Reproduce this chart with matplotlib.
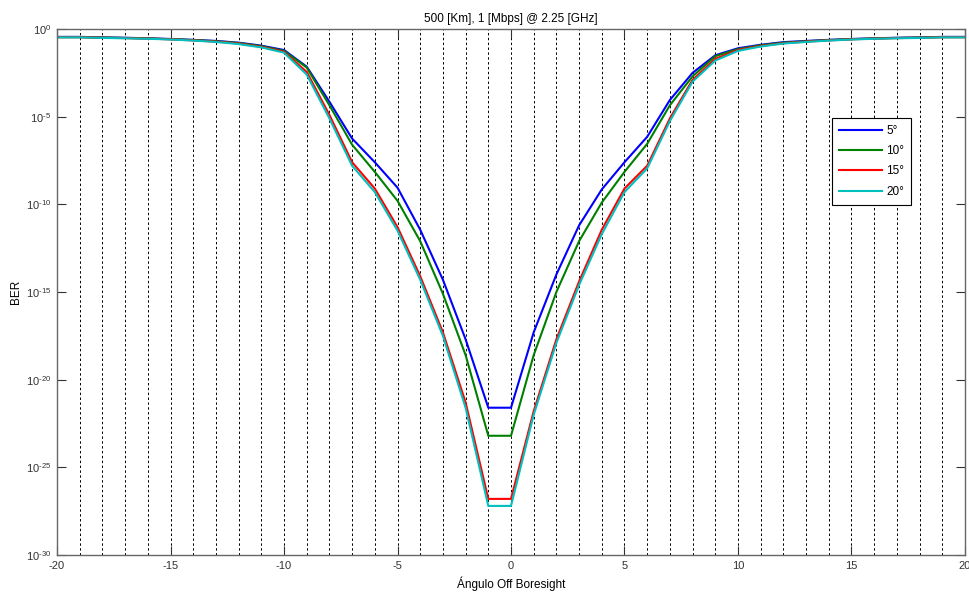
import numpy as np
import matplotlib
matplotlib.use('Agg')
import matplotlib.pyplot as plt
from matplotlib.ticker import MultipleLocator, FixedLocator, FuncFormatter

plt.rcParams['font.family'] = ['Liberation Sans', 'DejaVu Sans']
plt.rcParams['mathtext.fontset'] = 'custom'
plt.rcParams['mathtext.rm'] = 'Liberation Sans'
plt.rcParams['mathtext.it'] = 'Liberation Sans:italic'
plt.rcParams['mathtext.bf'] = 'Liberation Sans:bold'
plt.rcParams['axes.unicode_minus'] = False

# angle off boresight (deg)
angle = list(range(-20, 21))

# log10(BER), one list per elevation
log_ber_5 = [-0.45, -0.45, -0.48, -0.50, -0.53, -0.57, -0.62, -0.68, -0.78, -0.95,
             -1.20, -2.15, -4.15, -6.25, -7.60, -9.05, -11.45, -14.30, -17.70, -21.60,
             -21.60, -17.30, -14.00, -11.20, -9.15, -7.60, -6.15, -4.05, -2.50, -1.50,
             -1.10, -0.90, -0.75, -0.68, -0.62, -0.57, -0.53, -0.50, -0.48, -0.45, -0.45]
log_ber_10 = [-0.46, -0.46, -0.49, -0.51, -0.54, -0.58, -0.63, -0.70, -0.80, -0.98,
              -1.25, -2.20, -4.35, -6.60, -8.15, -9.80, -12.10, -15.10, -18.60, -23.20,
              -23.20, -18.60, -15.00, -12.10, -9.90, -8.15, -6.55, -4.35, -2.70, -1.55,
              -1.15, -0.93, -0.78, -0.70, -0.63, -0.58, -0.54, -0.51, -0.49, -0.46, -0.46]
log_ber_15 = [-0.47, -0.47, -0.50, -0.52, -0.55, -0.59, -0.65, -0.72, -0.83, -1.02,
              -1.30, -2.45, -4.90, -7.60, -9.10, -11.30, -14.10, -17.30, -21.30, -26.80,
              -26.80, -21.80, -17.70, -14.40, -11.45, -9.10, -7.80, -5.10, -2.90, -1.70,
              -1.20, -0.97, -0.81, -0.72, -0.65, -0.59, -0.55, -0.52, -0.50, -0.47, -0.47]
log_ber_20 = [-0.48, -0.48, -0.51, -0.53, -0.56, -0.60, -0.66, -0.74, -0.86, -1.05,
              -1.35, -2.60, -5.10, -7.80, -9.30, -11.50, -14.30, -17.50, -21.60, -27.20,
              -27.20, -22.00, -17.90, -14.60, -11.70, -9.30, -7.95, -5.25, -3.00, -1.80,
              -1.25, -1.00, -0.83, -0.74, -0.66, -0.60, -0.56, -0.53, -0.51, -0.48, -0.48]

labels = ['5°', '10°', '15°', '20°']
colors = ['#0000ff', '#008000', '#ff0000', '#00bfbf']
series = [log_ber_5, log_ber_10, log_ber_15, log_ber_20]
ytick_exp = [0, -5, -10, -15, -20, -25, -30]


def pow10_label(v, pos):
    e = int(round(np.log10(v)))
    return r'$10^{\text{%d}}$' % e


fig = plt.figure(figsize=(9.7, 6.0), dpi=100)
fig.patch.set_facecolor('white')
ax = fig.add_axes([0.0588, 0.075, 0.9360, 0.8767])

for vals, lab, col in zip(series, labels, colors):
    ax.semilogy(angle, 10.0 ** np.array(vals), color=col, lw=1.5, label=lab)

ax.set_xlim(-20, 20)
ax.set_ylim(1e-30, 1e0)

ax.xaxis.set_major_locator(MultipleLocator(5))
ax.xaxis.set_minor_locator(MultipleLocator(1))
ax.yaxis.set_major_locator(FixedLocator([10.0 ** e for e in ytick_exp]))
ax.yaxis.set_major_formatter(FuncFormatter(pow10_label))
ax.yaxis.set_minor_locator(FixedLocator([]))

ax.grid(True, which='both', axis='x', color='black', linestyle=(0, (2.5, 2.5)), linewidth=0.7)
ax.tick_params(which='major', direction='in', length=6.5, width=0.8, top=True, right=True,
               labelsize=8, colors='#333333', pad=4)
ax.tick_params(which='minor', length=0, top=True, right=True)
for sp in ax.spines.values():
    sp.set_color('#666666')
    sp.set_linewidth(1.0)

ax.set_title('500 [Km], 1 [Mbps] @ 2.25 [GHz]', fontsize=8.5, pad=5)
ax.set_xlabel('Ángulo Off Boresight', fontsize=8.5, labelpad=4)
ax.set_ylabel('BER', fontsize=8.5, labelpad=3)

leg = ax.legend(loc='upper left', bbox_to_anchor=(0.8535, 0.831), fontsize=8.5,
                fancybox=False, framealpha=1, edgecolor='black', handlelength=3.6,
                handletextpad=0.4, labelspacing=0.7, borderpad=0.6, borderaxespad=0)
leg.get_frame().set_linewidth(0.8)

fig.savefig('out.png', dpi=100)
